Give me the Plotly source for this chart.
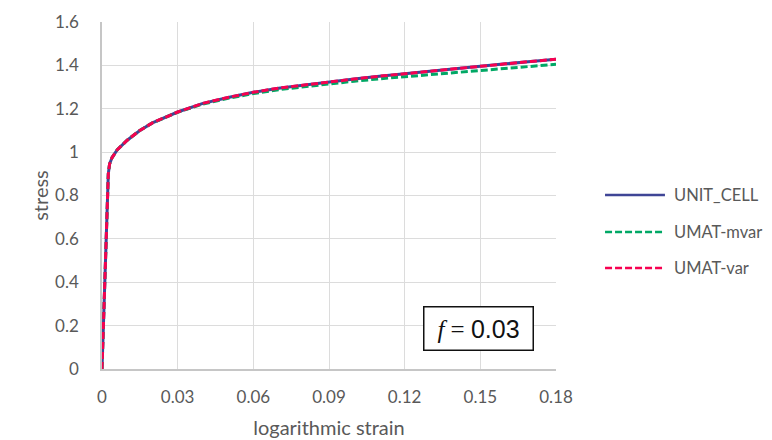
import plotly.graph_objects as go

strain = [0, 0.0005, 0.001, 0.0015, 0.002, 0.0025, 0.003, 0.004, 0.006, 0.008, 0.01,
          0.015, 0.02, 0.03, 0.04, 0.05, 0.06, 0.07, 0.08, 0.09, 0.10, 0.11, 0.12,
          0.13, 0.14, 0.15, 0.16, 0.17, 0.18]

unit_cell = [0, 0.19, 0.39, 0.58, 0.77, 0.90, 0.945, 0.975, 1.01, 1.035, 1.055,
             1.10, 1.135, 1.185, 1.225, 1.252, 1.276, 1.295, 1.31, 1.323, 1.337, 1.35, 1.362,
             1.373, 1.384, 1.396, 1.407, 1.418, 1.428]

umat_mvar = [0, 0.19, 0.39, 0.58, 0.77, 0.90, 0.945, 0.975, 1.01, 1.035, 1.055,
             1.10, 1.135, 1.184, 1.222, 1.248, 1.270, 1.288, 1.302, 1.314, 1.327, 1.338, 1.348,
             1.358, 1.368, 1.378, 1.387, 1.396, 1.405]

umat_var = [0, 0.19, 0.39, 0.58, 0.77, 0.90, 0.945, 0.975, 1.01, 1.035, 1.055,
            1.10, 1.135, 1.185, 1.225, 1.252, 1.276, 1.295, 1.31, 1.323, 1.337, 1.35, 1.362,
            1.373, 1.384, 1.396, 1.407, 1.418, 1.428]

series_names = ["UNIT_CELL", "UMAT-mvar", "UMAT-var"]

x_ticks = [0, 0.03, 0.06, 0.09, 0.12, 0.15, 0.18]
x_tick_labels = ["0", "0.03", "0.06", "0.09", "0.12", "0.15", "0.18"]
y_ticks = [0, 0.2, 0.4, 0.6, 0.8, 1.0, 1.2, 1.4, 1.6]
y_tick_labels = ["0", "0.2", "0.4", "0.6", "0.8", "1", "1.2", "1.4", "1.6"]

font_family = "Lato, 'Open Sans', sans-serif"
text_col = "#595959"

styles = [
    dict(color="#3f4596", width=3, dash="solid"),
    dict(color="#00a865", width=3, dash="7px,3px"),
    dict(color="#f70050", width=3, dash="7px,3px"),
]

fig = go.Figure()
for name, ys, st in zip(series_names, [unit_cell, umat_mvar, umat_var], styles):
    fig.add_trace(go.Scatter(x=strain, y=ys, mode="lines", name=name,
                             showlegend=False, line=st))

# manual legend (longer sample lines than plotly's built-in legend)
legend_rows_y = [0.5014, 0.3948, 0.2911]
for name, st, ly in zip(series_names, styles, legend_rows_y):
    fig.add_shape(type="line", xref="paper", yref="paper",
                  x0=1.108, x1=1.240, y0=ly, y1=ly,
                  line=dict(color=st["color"], width=2.5, dash=st["dash"]))
    fig.add_annotation(x=1.2555, y=ly, xref="paper", yref="paper",
                       xanchor="left", yanchor="middle", showarrow=False,
                       text=name, font=dict(size=16.5, color=text_col))

fig.add_annotation(x=0.1492, y=0.189, xref="x", yref="y",
                   text="<span style='font-family:Liberation Serif'><i>f</i> = </span>0.03",
                   showarrow=False,
                   font=dict(family="Liberation Sans, sans-serif", size=25, color="#111111"),
                   bordercolor="#111111", borderwidth=1.5, borderpad=4,
                   bgcolor="white", width=100, height=34)

fig.update_layout(
    width=772, height=440,
    margin=dict(l=102, r=216, t=22, b=71, autoexpand=False),
    paper_bgcolor="white", plot_bgcolor="white",
    font=dict(family=font_family, size=17, color=text_col),
    showlegend=False,
    xaxis=dict(range=[0, 0.18], tickvals=x_ticks, ticktext=x_tick_labels,
               automargin=False,
               showgrid=True, gridcolor="#dcdcdc", gridwidth=1,
               showline=True, linecolor="#c6c6c6", linewidth=1.5,
               zeroline=False, ticks="", ticklabelstandoff=12,
               tickfont=dict(size=17, color=text_col),
               title=dict(text="logarithmic strain", standoff=15,
                          font=dict(size=20, color=text_col))),
    yaxis=dict(range=[0, 1.6], tickvals=y_ticks, ticktext=y_tick_labels,
               automargin=False,
               showgrid=True, gridcolor="#dcdcdc", gridwidth=1,
               showline=True, linecolor="#c6c6c6", linewidth=1.5,
               zeroline=False, ticks="", ticklabelstandoff=18,
               tickfont=dict(size=17, color=text_col),
               title=dict(text="stress", standoff=1,
                          font=dict(size=20, color=text_col))),
)

fig.write_html("out.html")
